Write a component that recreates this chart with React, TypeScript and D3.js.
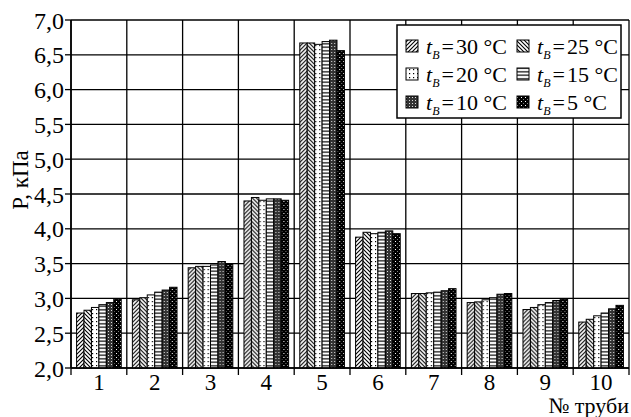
import * as d3 from "d3";

// pipe numbers and pressure per outdoor temperature
const pipes = ["1", "2", "3", "4", "5", "6", "7", "8", "9", "10"];
const temps = ["30", "25", "20", "15", "10", "5"];

const t30 = [2.79, 2.98, 3.44, 4.40, 6.67, 3.88, 3.07, 2.94, 2.84, 2.66];
const t25 = [2.83, 3.01, 3.46, 4.45, 6.67, 3.95, 3.07, 2.95, 2.87, 2.70];
const t20 = [2.87, 3.05, 3.46, 4.41, 6.65, 3.93, 3.08, 2.98, 2.91, 2.75];
const t15 = [2.91, 3.09, 3.48, 4.43, 6.69, 3.95, 3.09, 3.01, 2.94, 2.79];
const t10 = [2.94, 3.12, 3.53, 4.43, 6.71, 3.97, 3.11, 3.06, 2.97, 2.85];
const t5 = [2.99, 3.16, 3.50, 4.41, 6.56, 3.93, 3.14, 3.07, 2.99, 2.90];

const yTicks = [2.0, 2.5, 3.0, 3.5, 4.0, 4.5, 5.0, 5.5, 6.0, 6.5, 7.0];

const seriesValues = [t30, t25, t20, t15, t10, t5];

const W = 631;
const H = 417;
const margin = { top: 20, right: 2, bottom: 49, left: 71 };
const font = "'Liberation Serif', 'Times New Roman', serif";

function Patterns() {
  return (
    <defs>
      <pattern id="p30" width="4" height="4" patternUnits="userSpaceOnUse">
        <rect width="4" height="4" fill="#fff" />
        <path d="M-1,1 L1,-1 M0,4 L4,0 M3,5 L5,3" stroke="#000" strokeWidth="1.1" />
      </pattern>
      <pattern id="p25" width="4" height="4" patternUnits="userSpaceOnUse">
        <rect width="4" height="4" fill="#fff" />
        <path d="M-1,3 L1,5 M0,0 L4,4 M3,-1 L5,1" stroke="#000" strokeWidth="1.1" />
      </pattern>
      <pattern id="p20" width="4" height="4" patternUnits="userSpaceOnUse">
        <rect width="4" height="4" fill="#fff" />
        <rect x="1" y="1" width="1.2" height="1.2" fill="#000" />
      </pattern>
      <pattern id="p15" width="4" height="3.5" patternUnits="userSpaceOnUse">
        <rect width="4" height="3.5" fill="#fff" />
        <line x1="0" x2="4" y1="1.75" y2="1.75" stroke="#000" strokeWidth="1.2" />
      </pattern>
      <pattern id="p10" width="3" height="3" patternUnits="userSpaceOnUse">
        <rect width="3" height="3" fill="#333" />
        <rect x="1" y="1" width="1" height="1" fill="#ddd" />
      </pattern>
      <pattern id="p5" width="4" height="4" patternUnits="userSpaceOnUse">
        <rect width="4" height="4" fill="#000" />
        <rect x="1" y="1" width="1" height="1" fill="#fff" />
        <rect x="3" y="3" width="0.8" height="0.8" fill="#bbb" />
      </pattern>
    </defs>
  );
}

export default function App() {
  const x0 = margin.left;
  const x1 = W - margin.right;
  const yTop = margin.top;
  const yBot = H - margin.bottom;

  const x = d3.scaleBand<string>().domain(pipes).range([x0, x1]).padding(0);
  const xs = d3
    .scaleBand<string>()
    .domain(temps)
    .range([0, x.bandwidth()])
    .paddingInner(0)
    .paddingOuter(0.75);
  const y = d3.scaleLinear().domain([2, 7]).range([yBot, yTop]);

  const boundaries = pipes.map((p) => x(p)!).concat([x1]);

  const legendRows = [
    ["30", "25"],
    ["20", "15"],
    ["10", "5"],
  ];

  return (
    <svg
      width={W}
      height={H}
      style={{ position: "absolute", left: 0, top: 0, background: "#fff" }}
      fontFamily={font}
    >
      <Patterns />
      <rect width={W} height={H} fill="#fff" />

      {/* grid */}
      {yTicks.map((t) => (
        <line key={"gy" + t} x1={x0} x2={x1} y1={y(t)} y2={y(t)} stroke="#000" strokeWidth={1.3} />
      ))}
      {boundaries.map((b, i) => (
        <line key={"gx" + i} x1={b} x2={b} y1={yTop} y2={yBot + 7} stroke="#000" strokeWidth={1.3} />
      ))}

      {/* bars */}
      {pipes.map((p, i) => (
        <g key={p} transform={`translate(${x(p)},0)`}>
          {temps.map((t, j) => {
            const v = seriesValues[j][i];
            return (
              <rect
                key={t}
                x={xs(t)}
                y={y(v)}
                width={xs.bandwidth()}
                height={y(2) - y(v)}
                fill={`url(#p${t})`}
                stroke="#000"
                strokeWidth={1}
              />
            );
          })}
        </g>
      ))}

      {/* axes */}
      <line x1={x0} x2={x0} y1={yTop} y2={yBot} stroke="#000" strokeWidth={1.6} />
      <line x1={x0} x2={x1} y1={yBot} y2={yBot} stroke="#000" strokeWidth={1.6} />
      {yTicks.map((t) => (
        <g key={"ty" + t}>
          <line x1={x0 - 6} x2={x0} y1={y(t)} y2={y(t)} stroke="#000" strokeWidth={1.3} />
          <text x={x0 - 7} y={y(t)} dy="0.36em" textAnchor="end" fontSize={24}>
            {d3.format(".1f")(t).replace(".", ",")}
          </text>
        </g>
      ))}
      {pipes.map((p) => (
        <text key={"tx" + p} x={x(p)! + x.bandwidth() / 2} y={yBot + 22} textAnchor="middle" fontSize={23}>
          {p}
        </text>
      ))}
      <text x={W - 2} y={H - 4} textAnchor="end" fontSize={22}>
        № труби
      </text>
      <text transform={`translate(28,${(yTop + yBot) / 2 - 14}) rotate(-90)`} textAnchor="middle" fontSize={23}>
        Р, кПа
      </text>

      {/* legend */}
      <rect x={397} y={25} width={224} height={93} fill="#fff" stroke="#000" strokeWidth={1.5} />
      {legendRows.map((row, r) =>
        row.map((t, c) => {
          const lx = 406 + c * 111;
          const ly = 46 + r * 28;
          return (
            <g key={t}>
              <rect x={lx} y={ly - 6} width={12} height={12} fill={`url(#p${t})`} stroke="#000" strokeWidth={1} />
              <text x={lx + 20} y={ly} dy="0.36em" fontSize={22}>
                <tspan fontStyle="italic">t</tspan>
                <tspan fontStyle="italic" fontSize={12} dy={5}>B</tspan>
                <tspan dy={-5} dx={2}>=</tspan>
                <tspan dx={2}>{t} °C</tspan>
              </text>
            </g>
          );
        })
      )}
    </svg>
  );
}
